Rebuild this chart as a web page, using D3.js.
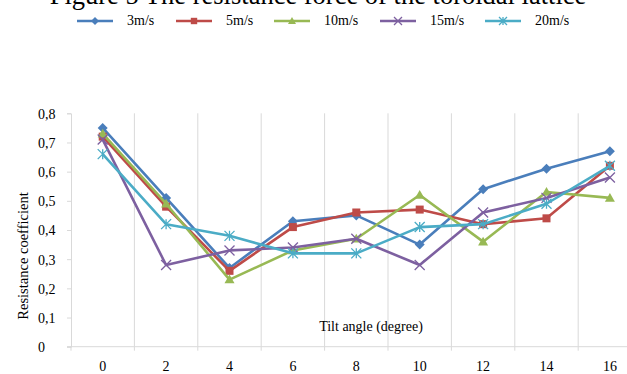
<!DOCTYPE html>
<html>
<head>
<meta charset="utf-8">
<script src="https://cdn.jsdelivr.net/npm/d3@7"></script>
<style>
  html, body { margin: 0; padding: 0; background: #fff; }
  svg { display: block; font-family: "Liberation Serif", "Times New Roman", serif; }
</style>
</head>
<body>
<svg id="chart" width="627" height="374"></svg>
<script>
// Tilt angles (degree) on the category axis
const angles = ["0", "2", "4", "6", "8", "10", "12", "14", "16"];

// Resistance coefficient per wind speed
const v3  = [0.75, 0.51, 0.27, 0.43, 0.45, 0.35, 0.54, 0.61, 0.67];
const v5  = [0.72, 0.48, 0.26, 0.41, 0.46, 0.47, 0.42, 0.44, 0.62];
const v10 = [0.73, 0.49, 0.23, 0.33, 0.37, 0.52, 0.36, 0.53, 0.51];
const v15 = [0.71, 0.28, 0.33, 0.34, 0.37, 0.28, 0.46, 0.51, 0.58];
const v20 = [0.66, 0.42, 0.38, 0.32, 0.32, 0.41, 0.42, 0.49, 0.62];

const seriesNames = ["3m/s", "5m/s", "10m/s", "15m/s", "20m/s"];
const yTicks = [0, 0.1, 0.2, 0.3, 0.4, 0.5, 0.6, 0.7, 0.8];

const series = [
  { name: seriesNames[0], values: v3,  color: "#4A7EBB", marker: "diamond" },
  { name: seriesNames[1], values: v5,  color: "#BE4B48", marker: "square" },
  { name: seriesNames[2], values: v10, color: "#98B954", marker: "triangle" },
  { name: seriesNames[3], values: v15, color: "#7D60A0", marker: "cross" },
  { name: seriesNames[4], values: v20, color: "#4BACC6", marker: "star" }
];

const svg = d3.select("#chart");
const fmt = d => String(d).replace(".", ",");
const FONT = "'Liberation Serif', 'Times New Roman', serif";

// Plot area: the last band runs past the right edge of the page
const left = 71, bandW = 63.4;
const x = d3.scaleBand().domain(angles).range([left, left + bandW * angles.length]);
const y = d3.scaleLinear().domain([0, 0.8]).range([346.7, 113.3]);

// Title (only its lower part sits inside the page)
svg.append("text")
  .attr("x", 318).attr("y", 4)
  .attr("text-anchor", "middle")
  .attr("font-size", 26.5)
  .attr("fill", "#000")
  .text("Figure 5 The resistance force of the toroidal lattice");

// Vertical gridlines at category boundaries
const bounds = angles.slice(1).map(a => x(a));
svg.append("g").selectAll("line").data(bounds).join("line")
  .attr("x1", d => d).attr("x2", d => d)
  .attr("y1", y(0.8)).attr("y2", y(0))
  .attr("stroke", "#d9d9d9").attr("stroke-width", 1);

// Y axis
const yAxis = svg.append("g")
  .attr("transform", `translate(${left},0)`)
  .call(d3.axisLeft(y).tickValues(yTicks).tickFormat(fmt).tickSize(4));
yAxis.select(".domain").attr("stroke", "#d9d9d9");
yAxis.selectAll(".tick line").attr("stroke", "#d9d9d9");
yAxis.selectAll(".tick text")
  .attr("font-family", FONT).attr("font-size", 14).attr("fill", "#000")
  .attr("text-anchor", "start").attr("x", 38 - left).attr("dy", "0.35em");

// X axis: ticks sit between categories
const xAxis = svg.append("g")
  .attr("transform", `translate(0,${y(0)})`)
  .call(d3.axisBottom(x).tickSize(0).tickPadding(0));
xAxis.select(".domain").remove();
xAxis.append("line")
  .attr("x1", left - 4).attr("x2", 627).attr("y1", 0).attr("y2", 0)
  .attr("stroke", "#d9d9d9");
xAxis.selectAll(".tickmark").data([left].concat(bounds)).join("line")
  .attr("class", "tickmark")
  .attr("x1", d => d).attr("x2", d => d).attr("y1", 0).attr("y2", 4)
  .attr("stroke", "#d9d9d9");
xAxis.selectAll(".tick text")
  .attr("font-family", FONT).attr("font-size", 14).attr("fill", "#000")
  .attr("y", 24.5).attr("dy", 0);

// Axis titles
svg.append("text")
  .attr("transform", "translate(28,256) rotate(-90)")
  .attr("text-anchor", "middle").attr("font-size", 14.5).attr("fill", "#000")
  .text("Resistance coefficient");
svg.append("text")
  .attr("x", 371).attr("y", 331)
  .attr("text-anchor", "middle").attr("font-size", 14).attr("fill", "#000")
  .text("Tilt angle (degree)");

// Marker shapes
function drawMarker(g, type, color, size) {
  const s = size;
  if (type === "diamond") {
    g.append("path").attr("d", `M0,${-s}L${s},0L0,${s}L${-s},0Z`).attr("fill", color);
  } else if (type === "square") {
    g.append("rect").attr("x", -s * 0.8).attr("y", -s * 0.8)
      .attr("width", s * 1.6).attr("height", s * 1.6).attr("fill", color);
  } else if (type === "triangle") {
    g.append("path").attr("d", `M0,${-s}L${s},${s * 0.75}L${-s},${s * 0.75}Z`).attr("fill", color);
  } else if (type === "cross") {
    g.append("path").attr("d", `M${-s},${-s}L${s},${s}M${-s},${s}L${s},${-s}`)
      .attr("stroke", color).attr("stroke-width", 1.3).attr("fill", "none");
  } else if (type === "star") {
    g.append("path")
      .attr("d", `M${-s},${-s}L${s},${s}M${-s},${s}L${s},${-s}M0,${-s}L0,${s}`)
      .attr("stroke", color).attr("stroke-width", 1.3).attr("fill", "none");
  }
}

const cx = a => x(a) + x.bandwidth() / 2;
const line = d3.line().x((d, i) => cx(angles[i])).y(d => y(d));

const plot = svg.append("g");
series.forEach(s => {
  plot.append("path")
    .datum(s.values)
    .attr("d", line)
    .attr("fill", "none")
    .attr("stroke", s.color)
    .attr("stroke-width", 2.6)
    .attr("stroke-linejoin", "round");
  s.values.forEach((v, i) => {
    const g = plot.append("g").attr("transform", `translate(${cx(angles[i])},${y(v)})`);
    drawMarker(g, s.marker, s.color, 5);
  });
});

// Legend
const legendX = [77, 176, 274, 380, 485];
const legend = svg.append("g");
series.forEach((s, i) => {
  const g = legend.append("g").attr("transform", `translate(${legendX[i]},21)`);
  g.append("line").attr("x1", 0).attr("x2", 36).attr("y1", 0).attr("y2", 0)
    .attr("stroke", s.color).attr("stroke-width", 2.6);
  const m = g.append("g").attr("transform", "translate(18,0)");
  drawMarker(m, s.marker, s.color, 4);
  g.append("text").attr("x", 50).attr("y", 0).attr("dy", "0.3em")
    .attr("font-size", 14).attr("fill", "#000").text(s.name);
});
</script>
</body>
</html>
